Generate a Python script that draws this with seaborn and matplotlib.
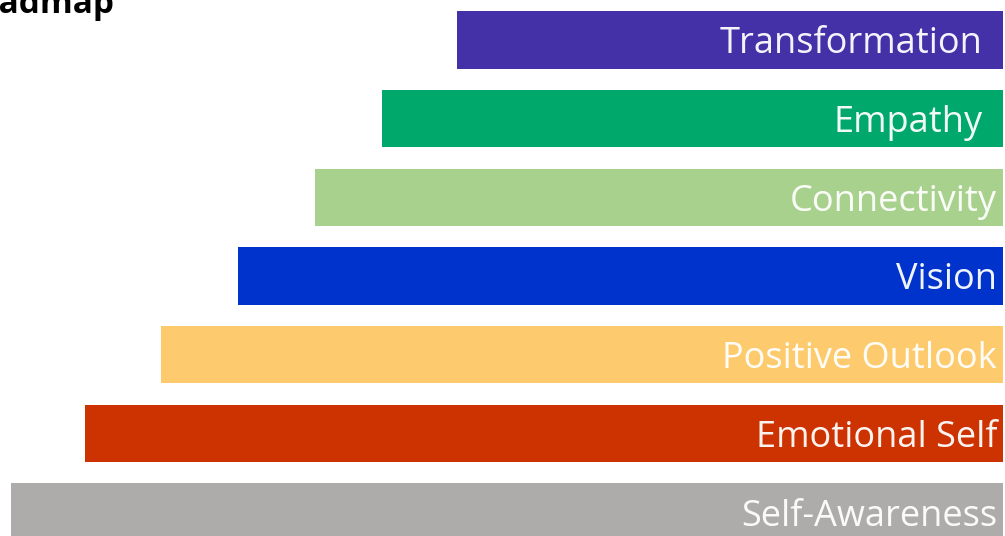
import matplotlib
matplotlib.use("Agg")
import matplotlib.pyplot as plt
import seaborn as sns
import pandas as pd

# Data (bar lengths measured from the common right edge)
levels = ["Transformation", "Empathy", "Connectivity", "Vision",
          "Positive Outlook", "Emotional Self", "Self-Awareness"]
lengths = [546, 621, 688, 765, 842, 918, 992]
colors = ["#4431A8", "#00A86B", "#A9D18E", "#0033CC",
          "#FDCB6E", "#CC3300", "#AEABAB"]
title = "Roadmap"

df = pd.DataFrame({"level": levels, "length": lengths})

sns.set_theme(style="white")
plt.rcParams["font.family"] = ["Open Sans", "DejaVu Sans"]

fig = plt.figure(figsize=(10.05, 5.36), dpi=100)
ax = fig.add_axes([0, 0, 1, 1])

sns.barplot(data=df, y="level", x="length", hue="level", palette=colors,
            order=levels, hue_order=levels, width=0.73, legend=False,
            orient="h", ax=ax, linewidth=0, saturation=1)

ax.set_xlim(1003, -2)
ax.set_ylim(6.305, -0.508)
ax.axis("off")

for i, lab in enumerate(levels):
    off = 20 if i < 2 else 6
    ax.text(off, i, lab, ha="right", va="center_baseline", color="white",
            fontsize=26, alpha=0.95)

fig.text(-0.044, 1 - 13 / 536, title, ha="left", va="baseline",
         fontsize=24, fontweight="bold", color="black")

fig.savefig("out.png", dpi=100)
